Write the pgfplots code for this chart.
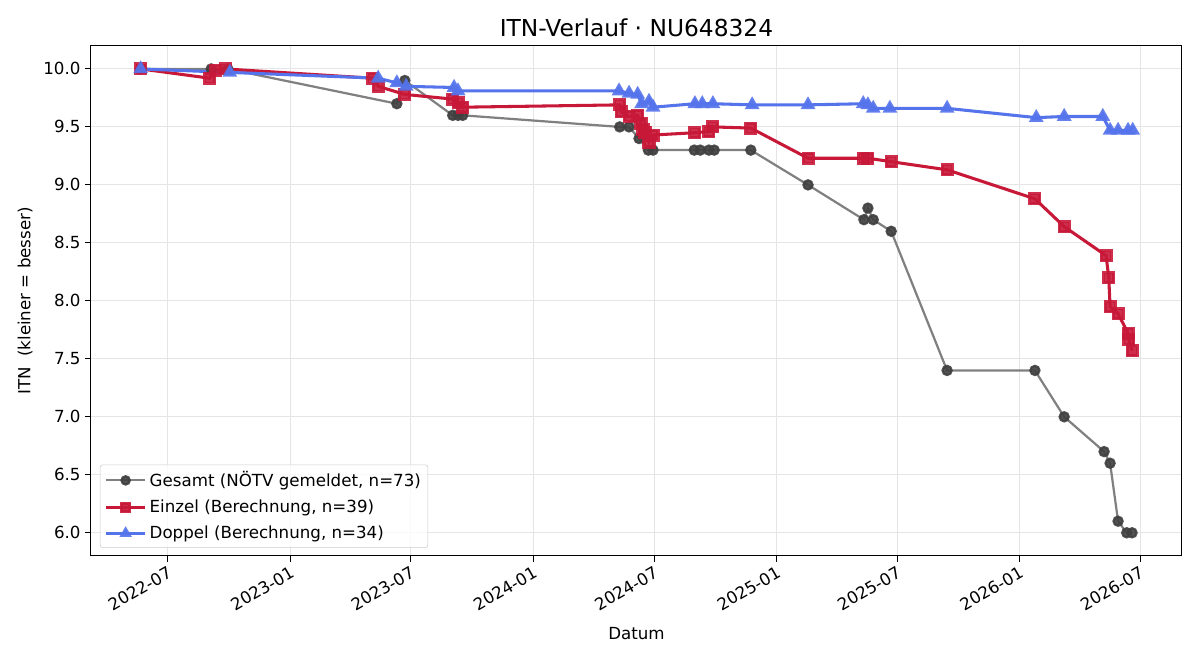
\documentclass[border=0pt]{standalone}
\usepackage{pgfplots}
\pgfplotsset{compat=1.18}
\usepackage{fontspec}
\setmainfont{DejaVu Sans}
\definecolor{gline}{RGB}{128,128,128}
\definecolor{gmark}{RGB}{64,64,64}
\definecolor{rline}{RGB}{200,24,56}
\definecolor{bline}{RGB}{85,115,235}
\begin{document}
\begin{tikzpicture}
\begin{axis}[
  scale only axis, width=785.5pt, height=367.2pt,
  xmin=65.3, xmax=1705, ymin=5.80, ymax=10.198,
  axis line style={black, line width=0.7pt},
  tick style={black, line width=0.7pt},
  major tick length=4pt,
  tick align=outside,
  xtick pos=bottom, ytick pos=left,
  xtick={181,365,546,730,912,1096,1277,1461,1642},
  xticklabels={2022-07,2023-01,2023-07,2024-01,2024-07,2025-01,2025-07,2026-01,2026-07},
  xticklabel style={rotate=30, anchor=north east, font=\fontsize{12}{14}\selectfont, inner sep=2pt},
  ytick={6,6.5,...,10},
  yticklabel style={font=\fontsize{12}{14}\selectfont, /pgf/number format/.cd, fixed, fixed zerofill, precision=1},
  /pgf/number format/assume math mode=true,
  grid=major,
  major grid style={gray!20, line width=0.7pt},
  xlabel={Datum}, ylabel={ITN\ \ (kleiner = besser)},
  label style={font=\fontsize{12}{14}\selectfont},
  xlabel style={yshift=-5pt},
  ylabel style={yshift=1pt},
  title={ITN-Verlauf · NU648324},
  title style={font=\fontsize{16.8}{19}\selectfont, yshift=-3pt},
  legend style={at={(0.0082,0.0157)}, anchor=south west, draw=gray!40, rounded corners=2pt, fill=white, fill opacity=0.8, text opacity=1, font=\fontsize{12}{14}\selectfont, row sep=4pt, inner sep=3pt},
  legend cell align=left,
  legend image code/.code={\draw[#1] (0cm,0cm) -- (0.5cm,0cm) -- (1.0cm,0cm); \path[#1, mark repeat=2, mark phase=2, mark size=3pt] plot coordinates {(0cm,0cm) (0.5cm,0cm) (1.0cm,0cm)};},
]
\addplot[gline, line width=1.6pt, mark=*, mark size=3.3pt, mark options={draw=gmark, fill=gmark, fill opacity=0.9, draw opacity=0.9}] coordinates {
(140,10.0) (246,10.0) (271,10.0) (525,9.7) (537,9.9) (609,9.6) (617,9.6) (624,9.6)
(860,9.5) (874,9.5) (889,9.4) (903,9.3) (910,9.3) (972,9.3) (981,9.3) (994,9.3) (1002,9.3)
(1057,9.3) (1143,9.0) (1227,8.7) (1233,8.8) (1241,8.7) (1268,8.6) (1352,7.4) (1484,7.4)
(1528,7.0) (1588,6.7) (1597,6.6) (1609,6.1) (1622,6.0) (1630,6.0)
};
\addlegendentry{Gesamt (NÖTV gemeldet, n=73)}
\addplot[rline, line width=2.2pt, mark=square*, mark size=3.6pt, mark options={fill=rline, fill opacity=0.9, draw opacity=0.9}] coordinates {
(140,10.00) (244,9.92) (253,9.99) (267,10.00) (489,9.92) (497,9.85) (537,9.78) (609,9.74)
(617,9.71) (624,9.67) (860,9.69) (862,9.63) (874,9.59) (887,9.60) (892,9.53) (895,9.48)
(898,9.45) (904,9.37) (910,9.43) (973,9.45) (994,9.46) (1000,9.50) (1057,9.49) (1143,9.23)
(1227,9.23) (1233,9.23) (1268,9.20) (1352,9.13) (1484,8.88) (1528,8.64) (1591,8.39)
(1595,8.20) (1597,7.95) (1609,7.89) (1624,7.72) (1625,7.67) (1630,7.57)
};
\addlegendentry{Einzel (Berechnung, n=39)}
\addplot[bline, line width=2.2pt, mark=triangle*, mark size=4pt, mark options={fill=bline, fill opacity=0.9, draw opacity=0.9}] coordinates {
(140,10.00) (274,9.97) (497,9.92) (525,9.88) (539,9.85) (611,9.84) (617,9.81) (859,9.81)
(874,9.79) (887,9.78) (893,9.70) (904,9.72) (910,9.67) (973,9.70) (984,9.70) (1000,9.70)
(1059,9.69) (1143,9.69) (1226,9.70) (1233,9.69) (1241,9.66) (1266,9.66) (1352,9.66)
(1486,9.58) (1528,9.59) (1586,9.59) (1597,9.47) (1609,9.47) (1624,9.47) (1631,9.47)
};
\addlegendentry{Doppel (Berechnung, n=34)}
\end{axis}
\pgfresetboundingbox
\path[use as bounding box] ([shift={(-65.5pt,-74.9pt)}]current axis.south west) rectangle ([shift={(13pt,33.1pt)}]current axis.north east);
\end{tikzpicture}
\end{document}
